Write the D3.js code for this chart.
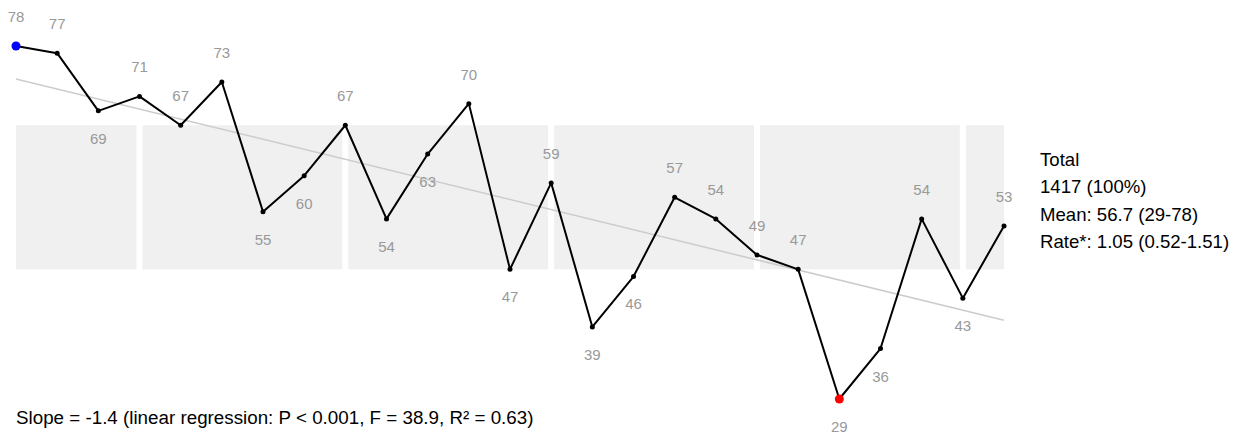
<!DOCTYPE html>
<html>
<head>
<meta charset="utf-8">
<script src="https://cdn.jsdelivr.net/npm/d3@7"></script>
<style>
  body { margin: 0; background: #fff; }
  svg { display: block; font-family: "Liberation Sans", Arial, Helvetica, sans-serif; }
</style>
</head>
<body>
<svg id="chart" width="1238" height="434"></svg>
<script>
// Series values, one per period
const values = [78, 77, 69, 71, 67, 73, 55, 60, 67, 54, 63, 70, 47, 59, 39, 46, 57, 54, 49, 47, 29, 36, 54, 43, 53];
// Where each value label sits relative to its point
const labelSide = ["up","up","down","up","up","up","down","down","up","down","down","up","down","up","down","down","up","up","up","up","down","down","up","down","up"];
// Index ranges of the shaded groups (start, end)
const groups = [[0, 3], [3, 8], [8, 13], [13, 18], [18, 23], [23, 24]];
// Interquartile band shown behind the line
const band = [47, 67];
// Summary text
const summaryLines = ["Total", "1417 (100%)", "Mean: 56.7 (29-78)", "Rate*: 1.05 (0.52-1.51)"];
const noteText = "Slope = -1.4 (linear regression: P < 0.001, F = 38.9, R² = 0.63)";

const svg = d3.select("#chart");
const x = d3.scaleLinear().domain([0, values.length - 1]).range([16, 1004]);
const y = d3.scaleLinear().domain([29, 78]).range([399, 46]);

// Shaded band segments
const gap = 3;
svg.append("g").selectAll("rect").data(groups).join("rect")
  .attr("x", (d, i) => x(d[0]) + (i === 0 ? 0 : gap))
  .attr("width", (d, i) => x(d[1]) - x(d[0]) - (i === 0 ? 0 : gap) - (i === groups.length - 1 ? 0 : gap))
  .attr("y", y(band[1]))
  .attr("height", y(band[0]) - y(band[1]))
  .attr("fill", "#f0f0f0");

// Least-squares trend line
const n = values.length;
const mx = d3.mean(values, (d, i) => i);
const my = d3.mean(values);
const sxy = d3.sum(values, (d, i) => (i - mx) * (d - my));
const sxx = d3.sum(values, (d, i) => (i - mx) * (i - mx));
const slope = sxy / sxx;
const intercept = my - slope * mx;
svg.append("line")
  .attr("x1", x(0)).attr("y1", y(intercept))
  .attr("x2", x(n - 1)).attr("y2", y(intercept + slope * (n - 1)))
  .attr("stroke", "#cccccc").attr("stroke-width", 1.5);

// Data line
svg.append("path")
  .datum(values)
  .attr("fill", "none")
  .attr("stroke", "#000")
  .attr("stroke-width", 2)
  .attr("stroke-linejoin", "round")
  .attr("d", d3.line().x((d, i) => x(i)).y(d => y(d)));

// Points: highlight maximum in blue and minimum in red
const maxV = d3.max(values), minV = d3.min(values);
svg.append("g").selectAll("circle").data(values).join("circle")
  .attr("cx", (d, i) => x(i))
  .attr("cy", d => y(d))
  .attr("r", d => (d === maxV || d === minV) ? 4.5 : 2.5)
  .attr("fill", d => d === maxV ? "#0000ff" : d === minV ? "#ff0000" : "#000");

// Value labels
svg.append("g").selectAll("text").data(values).join("text")
  .attr("x", (d, i) => x(i))
  .attr("y", (d, i) => y(d) + (labelSide[i] === "up" ? -28 : 29))
  .attr("text-anchor", "middle")
  .attr("dominant-baseline", "middle")
  .attr("font-size", 15)
  .attr("fill", "#999")
  .text(d => d);

// Summary block on the right
svg.append("g").selectAll("text").data(summaryLines).join("text")
  .attr("x", 1040)
  .attr("y", (d, i) => 165.5 + i * 27.6)
  .attr("font-size", 18.6)
  .attr("fill", "#000")
  .text(d => d);

// Regression note
svg.append("text")
  .attr("x", 16).attr("y", 423.5)
  .attr("font-size", 18.8).attr("fill", "#000")
  .text(noteText);
</script>
</body>
</html>
